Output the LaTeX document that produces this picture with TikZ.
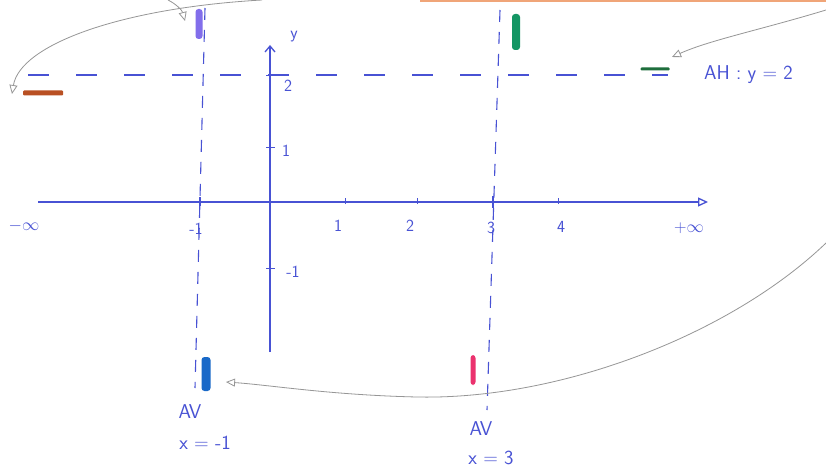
\documentclass[tikz,border=0pt]{standalone}
\usetikzlibrary{arrows.meta}
\definecolor{ink}{RGB}{72,82,212}
\definecolor{pencil}{RGB}{150,150,150}
\definecolor{mkpurple}{RGB}{130,110,235}
\definecolor{mkgreen}{RGB}{20,150,100}
\definecolor{mkdgreen}{RGB}{30,110,60}
\definecolor{mkbrown}{RGB}{185,80,35}
\definecolor{mkblue}{RGB}{25,105,200}
\definecolor{mkpink}{RGB}{235,50,110}
\definecolor{paperedge}{RGB}{240,165,120}
\tikzset{
  axis/.style={draw=ink, line width=1.3pt},
  asym/.style={draw=ink, line width=1.1pt},
  hdash/.style={asym, dash pattern=on 21pt off 27pt},
  vdash/.style={asym, dash pattern=on 12pt off 10pt},
  tickmark/.style={draw=ink, line width=0.9pt},
  lbl/.style={text=ink, font=\sffamily\fontsize{17}{20}\selectfont, inner sep=1pt},
  biglbl/.style={text=ink, font=\sffamily\fontsize{20}{24}\selectfont, inner sep=1pt},
  marker/.style={rounded corners=3pt, inner sep=0pt},
  note/.style={draw=pencil, line width=0.8pt, -{Triangle[open,length=9pt,width=8pt]}},
}
\begin{document}
\begin{tikzpicture}[x=1pt,y=-1pt]
\useasboundingbox (0,0) rectangle (826,468);
\fill[white] (0,0) rectangle (826,468);
\fill[paperedge] (420,0) rectangle (826,2.5);

% asymptotes
\draw[hdash] (28,75) -- (668,75);
\draw[vdash] (205,8) -- (195,388);
\draw[vdash] (500,10) -- (487,410);

% axes
\coordinate (xs) at (38,202);
\coordinate (xe) at (708,202);
\coordinate (ys) at (270,352);
\coordinate (ye) at (270,45);
\draw[axis, -{Triangle[open,length=10pt,width=9pt]}] (xs) -- (xe);
\draw[axis, -{Straight Barb[length=6pt,width=10pt]}] (ys) -- (ye);

% ticks
\foreach \x in {345,417,558} \draw[tickmark] (\x,198) -- (\x,204);
\draw[tickmark, line width=1.6pt] (493,196) -- (493,208);
\draw[tickmark, line width=1.6pt] (200,197) -- (200,206);
\foreach \y in {75,147,268} \draw[tickmark] (266,\y) -- (275,\y);

% axis labels
\node[lbl] (ly) at (294,37) {y};
\node[lbl] (l2) at (288,86) {2};
\node[lbl] (l1) at (286,151) {1};
\node[lbl] (lm1y) at (293,272) {-1};
\node[lbl] (lminf) at (24,226) {$-\infty$};
\node[lbl] (lm1) at (196,229) {-1};
\node[lbl] (lx1) at (338,226) {1};
\node[lbl] (lx2) at (410,226) {2};
\node[lbl] (lx3) at (491,228) {3};
\node[lbl] (lx4) at (561,227) {4};
\node[lbl] (lpinf) at (689,228) {$+\infty$};

% asymptote labels
\node[biglbl, anchor=west] (ah) at (703,75) {AH : y = 2};
\node[biglbl] (av1) at (190,412) {AV};
\node[biglbl] (eq1) at (205,443) {x = -1};
\node[biglbl] (av2) at (481,429) {AV};
\node[biglbl] (eq2) at (491,458) {x = 3};

% colour marks
\node[marker, fill=mkpurple, minimum width=7pt, minimum height=30pt] (mpurple) at (199,24) {};
\node[marker, fill=mkgreen, minimum width=8pt, minimum height=36pt] (mgreen) at (516,32) {};
\node[marker, fill=mkbrown, minimum width=40pt, minimum height=5pt, rounded corners=1pt] (mbrown) at (43,93) {};
\node[marker, fill=mkdgreen, minimum width=29pt, minimum height=3pt, rounded corners=1pt] (mdgreen) at (655,69) {};
\node[marker, fill=mkblue, minimum width=9pt, minimum height=34pt] (mblue) at (206,374) {};
\node[marker, fill=mkpink, minimum width=5pt, minimum height=30pt] (mpink) at (473,370) {};

% pencil arrows
\coordinate (c1) at (262,0);
\coordinate (c2) at (168,0);
\coordinate (c3) at (826,10);
\coordinate (c4) at (826,243);
\coordinate (t1) at (12,94);
\coordinate (t2) at (185,21);
\coordinate (t3) at (672,57);
\coordinate (t4) at (226,382);
\draw[note] (c1) .. controls (120,8) and (20,45) .. (t1);
\draw[note] (c2) .. controls (176,4) and (182,10) .. (t2);
\draw[note] (c3) .. controls (760,30) and (710,40) .. (t3);
\draw[note] (c4) .. controls (730,335) and (560,400) .. (417,397) .. controls (330,395) and (270,385) .. (t4);
\end{tikzpicture}
\end{document}
